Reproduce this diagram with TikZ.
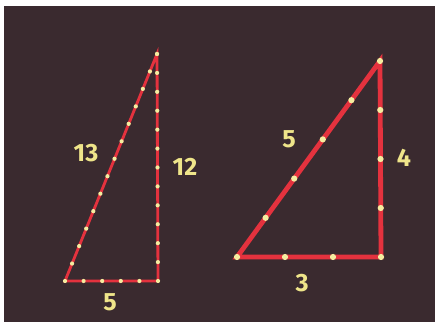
\documentclass[tikz,border=0pt]{standalone}
\usepackage{fontspec}
\setmainfont{Fira Sans}
\usetikzlibrary{calc}
\definecolor{board}{HTML}{3A2A2F}
\definecolor{rope}{HTML}{E4323E}
\definecolor{knot}{HTML}{F4EDA0}
\definecolor{chalk}{HTML}{EFE58A}
\tikzset{
  thinrope/.style={draw=rope, line width=2.8pt, line join=miter},
  thickrope/.style={draw=rope, line width=4.8pt, line join=miter},
  smalldot/.style={circle, fill=knot, inner sep=0pt, minimum size=4.2pt},
  bigdot/.style={circle, fill=knot, inner sep=0pt, minimum size=6.2pt},
  lbl/.style={text=chalk, font=\fontsize{25}{25}\selectfont\bfseries, inner sep=0pt}
}
\begin{document}
\begin{tikzpicture}[x=1pt,y=1pt]
\useasboundingbox (0,0) rectangle (435,323);
\fill[white] (0,0) rectangle (435,323);
\fill[board] (4,1) rectangle (435,317);
% left triangle 5-12-13
\coordinate (A) at (157,269);
\coordinate (B) at (65,42);
\coordinate (C) at (158,42);
\path[thinrope] (A) -- (B) -- (C) -- cycle;
\foreach \i in {0,...,13} \node[smalldot] at ($(B)!\i/13!(A)$) {};
\foreach \i in {1,...,12} \node[smalldot] at ($(C)!\i/12!(A)$) {};
\foreach \i in {1,...,4} \node[smalldot] at ($(B)!\i/5!(C)$) {};
\node[smalldot] at (C) {};
% right triangle 3-4-5
\coordinate (D) at (380,262);
\coordinate (E) at (237,66);
\coordinate (F) at (381,66);
\path[thickrope] (D) -- (E) -- (F) -- cycle;
\foreach \i in {0,...,5} \node[bigdot] at ($(E)!\i/5!(D)$) {};
\foreach \i in {0,...,3} \node[bigdot] at ($(F)!\i/4!(D)$) {};
\foreach \i in {1,2} \node[bigdot] at ($(E)!\i/3!(F)$) {};
% labels
\node[lbl] (l13) at (86,170) {13};
\node[lbl] (l12) at (185,156) {12};
\node[lbl] (l5a) at (110,21) {5};
\node[lbl] (l5b) at (289,184) {5};
\node[lbl] (l4) at (404,165) {4};
\node[lbl] (l3) at (302,40) {3};
\end{tikzpicture}
\end{document}
